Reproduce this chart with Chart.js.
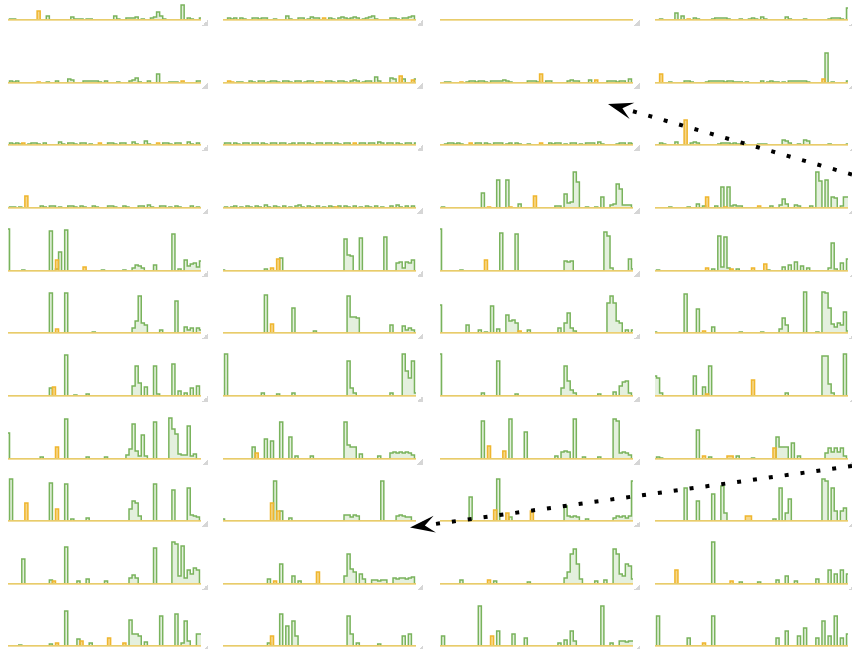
<!DOCTYPE html>
<html><head><meta charset="utf-8">
<script src="https://cdn.jsdelivr.net/npm/chart.js@4.4.1/dist/chart.umd.min.js"></script>
<style>
html,body{margin:0;padding:0;background:#fff;width:852px;height:649px;overflow:hidden;}
#wrap{position:relative;width:852px;height:649px;}
.panel{position:absolute;}
.grip{position:absolute;width:6px;height:6px;background:linear-gradient(135deg,rgba(255,255,255,0) 50%,#d6d6d6 50%);}
#overlay{position:absolute;left:0;top:0;pointer-events:none;}
</style></head>
<body><div id="wrap"></div>
<script>
// categories: 64 sample positions per sparkline
const POINTS = Array.from({length:64}, (_, i) => i);

// values per row: each row has 4 panels (columns); each panel is a list of [position, value] (unlisted positions are 0)
const g0 = [
  [[1,1],[2,1],[13,4],[21,3],[22,1],[23,1],[24,1],[26,1],[27,1],[35,4],[36,1],[39,2],[40,2],[41,2],[42,3],[44,1],[47,2],[48,3],[49,8],[50,4],[51,1],[57,15],[59,2],[60,1],[63,2]],
  [[2,2],[3,1],[4,2],[6,2],[7,1],[10,2],[11,2],[12,1],[13,2],[14,2],[17,1],[21,4],[22,1],[25,2],[26,2],[28,1],[29,3],[30,2],[31,2],[35,2],[36,1],[38,2],[39,3],[40,2],[41,1],[42,2],[43,3],[44,2],[46,1],[47,2],[48,3],[49,4],[50,1],[55,2],[56,2],[57,1],[59,2],[60,2],[61,3],[62,4]],
  [],
  [[2,1],[7,7],[9,4],[13,2],[14,1],[19,1],[20,2],[21,2],[22,2],[23,2],[24,1],[28,1],[31,1],[32,2],[33,1],[35,3],[36,1],[43,3],[44,1],[49,1],[57,1],[58,2],[59,2],[60,2],[61,1],[63,12]]
];
const o0 = [ [[10,9]], [[33,2]], [], [[11,1]] ];

const g1 = [
  [[1,2],[2,1],[3,2],[13,1],[16,2],[20,4],[21,3],[25,2],[26,2],[27,2],[28,2],[29,2],[30,1],[32,2],[36,1],[40,2],[41,3],[42,5],[43,1],[46,2],[49,9],[53,1],[54,1],[55,1],[62,2],[63,2]],
  [[5,1],[6,1],[9,2],[10,1],[12,2],[13,2],[15,1],[16,2],[17,2],[18,1],[20,2],[21,2],[22,1],[24,2],[25,2],[27,1],[28,2],[29,2],[31,1],[34,2],[35,2],[36,1],[38,2],[39,2],[40,1],[42,2],[43,3],[44,2],[46,1],[47,2],[48,2],[50,6],[51,2],[55,5],[56,4],[59,4],[63,4]],
  [[2,1],[3,1],[9,1],[10,2],[11,2],[12,1],[13,2],[14,2],[15,1],[17,2],[18,2],[19,2],[20,2],[21,3],[22,2],[23,1],[29,2],[30,2],[31,2],[32,1],[35,2],[36,2],[42,2],[43,3],[44,2],[45,2],[49,3],[55,2],[56,2],[57,2],[58,1],[59,2],[60,2],[62,4]],
  [[5,1],[10,2],[11,2],[12,1],[17,1],[18,2],[19,2],[20,2],[21,2],[22,2],[23,1],[24,2],[25,2],[26,1],[27,1],[28,1],[30,1],[35,2],[37,1],[38,2],[39,1],[40,1],[42,1],[44,2],[45,2],[46,2],[47,2],[48,2],[49,2],[50,1],[56,30],[58,1],[63,2]]
];
const o1 = [ [[10,1],[57,2]], [[2,2],[3,1],[32,1],[58,7],[62,3]], [[7,1],[33,9],[51,3]], [[2,9],[55,4]] ];

const g2 = [
  [[1,2],[2,1],[3,2],[4,1],[7,1],[8,2],[9,2],[10,1],[12,2],[17,3],[18,1],[20,2],[21,2],[22,1],[24,2],[25,2],[27,1],[33,2],[34,2],[35,1],[37,2],[38,2],[41,3],[42,1],[45,4],[46,1],[51,2],[52,2],[53,1],[55,2],[56,2],[59,3],[60,1],[62,2]],
  [[1,2],[2,2],[4,2],[5,1],[7,2],[8,2],[10,2],[11,2],[13,2],[14,1],[16,2],[17,2],[19,2],[20,2],[22,1],[23,2],[25,2],[26,2],[28,2],[29,1],[31,2],[32,2],[34,2],[35,2],[37,2],[38,1],[40,2],[41,2],[45,2],[46,2],[48,2],[49,2],[51,3],[52,2],[54,2],[55,2],[57,2],[58,1],[60,2],[61,2],[63,2]],
  [[2,1],[3,2],[4,2],[5,1],[6,2],[7,1],[12,2],[13,2],[15,2],[16,1],[18,2],[19,2],[20,2],[22,1],[23,2],[25,2],[26,1],[29,1],[36,2],[37,1],[38,2],[39,2],[41,1],[43,2],[44,2],[46,1],[48,2],[49,2],[50,2],[52,3],[53,1],[58,1],[59,2],[60,2],[62,2],[63,1]],
  [[2,2],[3,1],[7,3],[12,2],[13,3],[14,2],[21,1],[22,2],[23,2],[24,2],[25,1],[26,2],[27,1],[29,1],[34,1],[35,1],[36,1],[42,5],[43,4],[44,2],[47,1],[49,5],[50,4],[57,1],[63,1]]
];
const o2 = [ [[5,2],[30,2],[49,2]], [[43,2]], [[10,2],[33,2]], [[10,25]] ];

const g3 = [
  [[1,1],[2,1],[4,1],[11,2],[12,1],[14,2],[15,2],[17,1],[20,2],[21,2],[22,1],[24,2],[25,1],[28,2],[29,1],[33,2],[34,2],[35,1],[38,2],[39,1],[43,2],[44,2],[46,3],[47,1],[50,2],[51,2],[53,1],[55,2],[56,1],[60,2],[62,1]],
  [[1,1],[3,1],[4,2],[6,1],[8,2],[9,1],[11,2],[12,1],[14,3],[15,1],[17,2],[18,1],[20,2],[22,1],[24,2],[25,3],[26,1],[28,2],[29,1],[31,2],[33,1],[35,2],[36,1],[38,2],[40,2],[41,1],[43,2],[45,1],[47,2],[48,1],[50,2],[52,1],[55,2],[57,3],[58,1],[60,2],[62,2]],
  [[1,1],[14,15],[19,28],[22,28],[26,4],[38,2],[39,2],[41,14],[42,5],[43,6],[44,36],[45,26],[48,1],[51,1],[53,11],[56,3],[57,4],[58,24],[59,19],[60,3],[61,3],[62,3]],
  [[5,1],[11,1],[14,4],[16,2],[20,2],[22,21],[24,21],[25,2],[26,3],[27,2],[28,2],[38,2],[41,3],[42,9],[43,4],[46,3],[47,2],[51,2],[53,36],[54,27],[56,28],[58,11],[59,10],[61,2],[62,11],[63,11]]
];
const o3 = [ [[6,12]], [[37,1]], [[16,1],[23,1],[31,12]], [[17,11],[23,1],[34,2]] ];

const g4 = [
  [[0,42],[5,1],[14,40],[16,2],[17,19],[19,41],[31,1],[38,1],[41,3],[42,6],[43,5],[44,3],[48,6],[54,37],[56,2],[58,11],[59,5],[60,7],[61,8],[62,4],[63,10]],
  [[0,1],[14,2],[19,13],[40,32],[41,16],[42,15],[45,33],[53,34],[57,8],[58,9],[59,3],[60,9],[61,8],[62,11]],
  [[0,42],[7,1],[20,38],[25,37],[41,10],[42,9],[43,10],[54,39],[55,35],[56,3],[62,12],[63,2]],
  [[1,1],[19,2],[21,35],[22,4],[23,34],[24,3],[27,2],[37,1],[42,4],[44,6],[46,9],[48,5],[50,3],[57,3],[58,28],[59,2],[61,8],[63,12]]
];
const o4 = [ [[16,11],[25,4]], [[16,3],[18,12]], [[15,11]], [[17,3],[25,2],[32,3],[36,7]] ];

const g5 = [
  [[14,40],[19,40],[28,1],[41,5],[42,12],[43,37],[44,10],[45,8],[50,3],[55,32],[58,6],[59,3],[60,5],[62,5],[63,3]],
  [[14,38],[23,25],[30,2],[41,37],[42,16],[43,16],[44,15],[55,8],[59,7],[60,3],[61,5],[62,3]],
  [[0,28],[9,8],[13,3],[15,1],[17,27],[19,4],[22,18],[23,12],[24,13],[25,10],[29,3],[39,5],[41,10],[42,20],[43,5],[44,2],[55,30],[56,37],[57,30],[58,12],[59,10],[61,3],[63,3]],
  [[0,1],[10,39],[14,24],[19,6],[28,1],[35,1],[41,4],[42,15],[43,8],[49,41],[53,1],[55,41],[56,40],[57,25],[58,9],[59,6],[60,10],[61,8],[62,21],[63,2]]
];
const o5 = [ [[16,4]], [[16,9]], [[26,2]], [[16,2]] ];

const g6 = [
  [[14,8],[19,41],[22,1],[26,2],[41,10],[42,30],[43,13],[45,9],[48,30],[49,2],[54,32],[56,5],[58,3],[60,8],[62,10]],
  [[1,42],[13,3],[18,2],[23,3],[41,35],[42,8],[43,3],[55,3],[59,42],[60,25],[61,18],[62,35],[63,3]],
  [[0,42],[14,3],[19,35],[25,2],[40,8],[41,30],[42,15],[43,6],[44,3],[52,2],[57,4],[59,10],[60,14],[61,15],[62,3]],
  [[0,20],[1,18],[2,3],[13,20],[16,9],[18,30],[43,3],[55,40],[56,40],[57,12],[58,3],[62,42]]
];
const o6 = [ [[15,9]], [], [], [[17,2],[32,16]] ];

const g7 = [
  [[0,26],[11,2],[19,40],[26,2],[32,2],[39,4],[40,10],[41,35],[42,8],[43,3],[44,24],[45,3],[48,37],[53,41],[54,30],[55,25],[56,5],[57,4],[58,4],[59,33],[60,3],[61,5]],
  [[10,12],[14,20],[16,18],[19,37],[22,22],[24,3],[29,3],[40,37],[41,14],[42,12],[43,12],[45,5],[51,3],[55,6],[56,7],[57,6],[58,7],[59,6],[60,7],[61,6],[62,4]],
  [[14,38],[23,40],[28,27],[38,3],[40,7],[41,8],[42,7],[44,40],[47,2],[52,2],[57,40],[58,38],[59,6],[60,7],[61,6],[62,4]],
  [[1,2],[2,1],[14,29],[18,2],[27,3],[32,1],[40,22],[41,12],[42,12],[43,12],[45,16],[47,3],[56,6],[57,11],[58,7],[59,11],[60,7],[61,11],[62,3]]
];
const o7 = [ [[16,12]], [[11,6]], [[16,13],[21,8]], [[16,3],[24,3],[25,3],[39,11]] ];

const g8 = [
  [[1,42],[14,38],[19,37],[21,2],[26,3],[40,12],[41,20],[42,18],[43,5],[48,37],[54,31],[59,33],[60,6],[61,5],[62,4]],
  [[0,2],[17,40],[19,10],[22,3],[40,6],[41,6],[42,4],[43,6],[44,5],[52,40],[57,5],[58,6],[59,5],[60,4],[61,4]],
  [[10,24],[19,42],[23,4],[41,15],[42,5],[43,4],[44,5],[45,4],[48,2],[57,3],[58,5],[59,4],[60,5],[61,3],[62,5],[63,40]],
  [[10,33],[14,20],[19,27],[22,35],[23,8],[39,2],[41,33],[43,8],[44,22],[55,42],[56,40],[58,33],[59,10],[61,10],[62,13]]
];
const o8 = [ [[6,18],[16,12]], [[16,18],[18,10]], [[18,11],[22,8],[30,10]], [[30,5],[31,5]] ];

const g9 = [
  [[5,25],[14,4],[19,37],[23,3],[26,5],[32,3],[40,6],[41,9],[42,6],[48,36],[54,42],[55,40],[56,8],[57,38],[58,6],[59,14],[60,10],[61,16],[62,14]],
  [[15,5],[19,20],[23,8],[25,3],[40,8],[41,30],[42,15],[43,12],[45,10],[46,5],[49,4],[50,4],[51,3],[52,4],[53,4],[56,6],[57,5],[58,6],[59,6],[60,5],[61,6],[62,7]],
  [[7,4],[18,3],[29,2],[41,6],[42,12],[43,30],[44,35],[45,20],[46,5],[51,3],[54,4],[57,35],[58,30],[59,10],[60,8],[61,20],[62,18],[63,5]],
  [[19,42],[28,2],[34,2],[40,4],[43,8],[46,3],[53,5],[57,14],[59,10],[61,14],[63,10]]
];
const o9 = [ [[15,3]], [[17,3],[31,12]], [[16,4]], [[7,14],[25,3]] ];

const g10 = [
  [[4,1],[14,2],[19,35],[23,7],[27,3],[40,26],[41,12],[42,12],[43,10],[45,4],[50,30],[55,32],[57,3],[58,25],[59,5],[62,12],[63,12]],
  [[15,3],[19,32],[21,20],[23,25],[24,10],[41,30],[42,12],[44,3],[51,2],[59,10],[61,12]],
  [[1,10],[13,40],[19,15],[24,12],[28,8],[39,3],[41,6],[43,15],[44,5],[53,40],[56,3],[59,5],[60,5],[61,4],[62,5],[63,5]],
  [[1,30],[11,8],[19,30],[40,8],[43,15],[47,10],[49,18],[53,8],[55,25],[57,10],[59,30],[61,8],[63,12]]
];
const o10 = [ [[16,3],[24,5],[33,8],[38,3]], [[16,10]], [[17,10]], [[16,3]] ];

const greenRows  = [g0,g1,g2,g3,g4,g5,g6,g7,g8,g9,g10];
const orangeRows = [o0,o1,o2,o3,o4,o5,o6,o7,o8,o9,o10];

// annotation arrows (page coordinates): start -> tip
const arrowA = [{x:852,y:174.5},{x:608,y:104}];
const arrowB = [{x:852,y:466},{x:410,y:527.5}];

// ---- layout ----
const COL_LEFT = [8, 223, 440, 655];
const ROW_BASE = [20, 83, 145, 208, 271, 333, 396, 459, 521, 584, 646];
const PW = 193, PH = 52, PAD = 2, YMAX = 48;
const GREEN = '#79b35c', GREEN_FILL = 'rgba(121,179,92,0.2)';
const ORANGE = '#efb62e', ORANGE_FILL = 'rgba(239,182,46,0.55)';
const BASE_LINE = '#ecd27a';

function expand(pairs){
  const a = POINTS.map(() => 0);
  pairs.forEach(([i,v]) => { a[i] = v; });
  return a;
}

// draws the orange series' zero line in a light gold on top, like the reference baseline
const baseLine = {
  id: 'baseLine',
  afterDatasetsDraw(chart) {
    const ctx = chart.ctx, a = chart.chartArea, y = chart.scales.y.getPixelForValue(0);
    ctx.save();
    ctx.strokeStyle = BASE_LINE; ctx.lineWidth = 1.5;
    ctx.beginPath(); ctx.moveTo(a.left, y); ctx.lineTo(a.right, y); ctx.stroke();
    ctx.restore();
  }
};

const wrap = document.getElementById('wrap');
greenRows.forEach((row, r) => {
  row.forEach((gp, c) => {
    const cv = document.createElement('canvas');
    cv.className = 'panel';
    cv.width = PW; cv.height = PH;
    cv.style.left = COL_LEFT[c] + 'px';
    cv.style.top = (ROW_BASE[r] - (PH - PAD)) + 'px';
    wrap.appendChild(cv);
    const grip = document.createElement('div');
    grip.className = 'grip';
    grip.style.left = (COL_LEFT[c] + PW + 1) + 'px';
    grip.style.top = (ROW_BASE[r]) + 'px';
    wrap.appendChild(grip);
    new Chart(cv, {
      type: 'line',
      data: {
        labels: POINTS,
        datasets: [
          { data: expand(orangeRows[r][c]), borderColor: ORANGE, backgroundColor: ORANGE_FILL,
            borderWidth: 1.5, fill: 'origin', stepped: 'middle', pointRadius: 0, order: 0 },
          { data: expand(gp), borderColor: GREEN, backgroundColor: GREEN_FILL,
            borderWidth: 1.5, fill: 'origin', stepped: 'middle', pointRadius: 0, order: 1 }
        ]
      },
      options: {
        responsive: false, animation: false, devicePixelRatio: 1,
        layout: { padding: { top: PAD, bottom: PAD, left: 0, right: 0 } },
        scales: {
          x: { display: false, offset: false },
          y: { display: false, min: 0, max: YMAX }
        },
        plugins: { legend: { display: false }, tooltip: { enabled: false } },
        events: []
      },
      plugins: [baseLine]
    });
  });
});

// ---- overlay with dotted arrows ----
const ov = document.createElement('canvas');
ov.id = 'overlay'; ov.width = 852; ov.height = 649;
wrap.appendChild(ov);
const arrowHeads = {
  id: 'arrowHeads',
  afterDatasetsDraw(chart) {
    const ctx = chart.ctx, xs = chart.scales.x, ys = chart.scales.y;
    chart.data.datasets.forEach(ds => {
      const n = ds.data.length;
      const p0 = ds.data[n-2], p1 = ds.data[n-1];
      const x0 = xs.getPixelForValue(p0.x), y0 = ys.getPixelForValue(p0.y);
      const x1 = xs.getPixelForValue(p1.x), y1 = ys.getPixelForValue(p1.y);
      const ang = Math.atan2(y1 - y0, x1 - x0);
      ctx.save();
      ctx.translate(x1, y1); ctx.rotate(ang);
      ctx.beginPath();
      ctx.moveTo(0, 0);
      ctx.lineTo(-25, -8.5);
      ctx.lineTo(-15, 0);
      ctx.lineTo(-25, 8.5);
      ctx.closePath();
      ctx.fillStyle = '#000';
      ctx.fill();
      ctx.restore();
    });
  }
};
new Chart(ov, {
  type: 'scatter',
  data: { datasets: [
    { data: arrowA, showLine: true, borderColor: '#000', borderWidth: 4, borderDash: [4,12], borderCapStyle: 'butt', pointRadius: 0, fill: false },
    { data: arrowB, showLine: true, borderColor: '#000', borderWidth: 4, borderDash: [4,12], borderCapStyle: 'butt', pointRadius: 0, fill: false }
  ]},
  options: {
    responsive: false, animation: false, devicePixelRatio: 1,
    layout: { padding: 0 },
    scales: {
      x: { type: 'linear', display: false, min: 0, max: 852 },
      y: { type: 'linear', display: false, min: 0, max: 649, reverse: true }
    },
    plugins: { legend: { display: false }, tooltip: { enabled: false } },
    events: []
  },
  plugins: [arrowHeads]
});
</script>
</body></html>
